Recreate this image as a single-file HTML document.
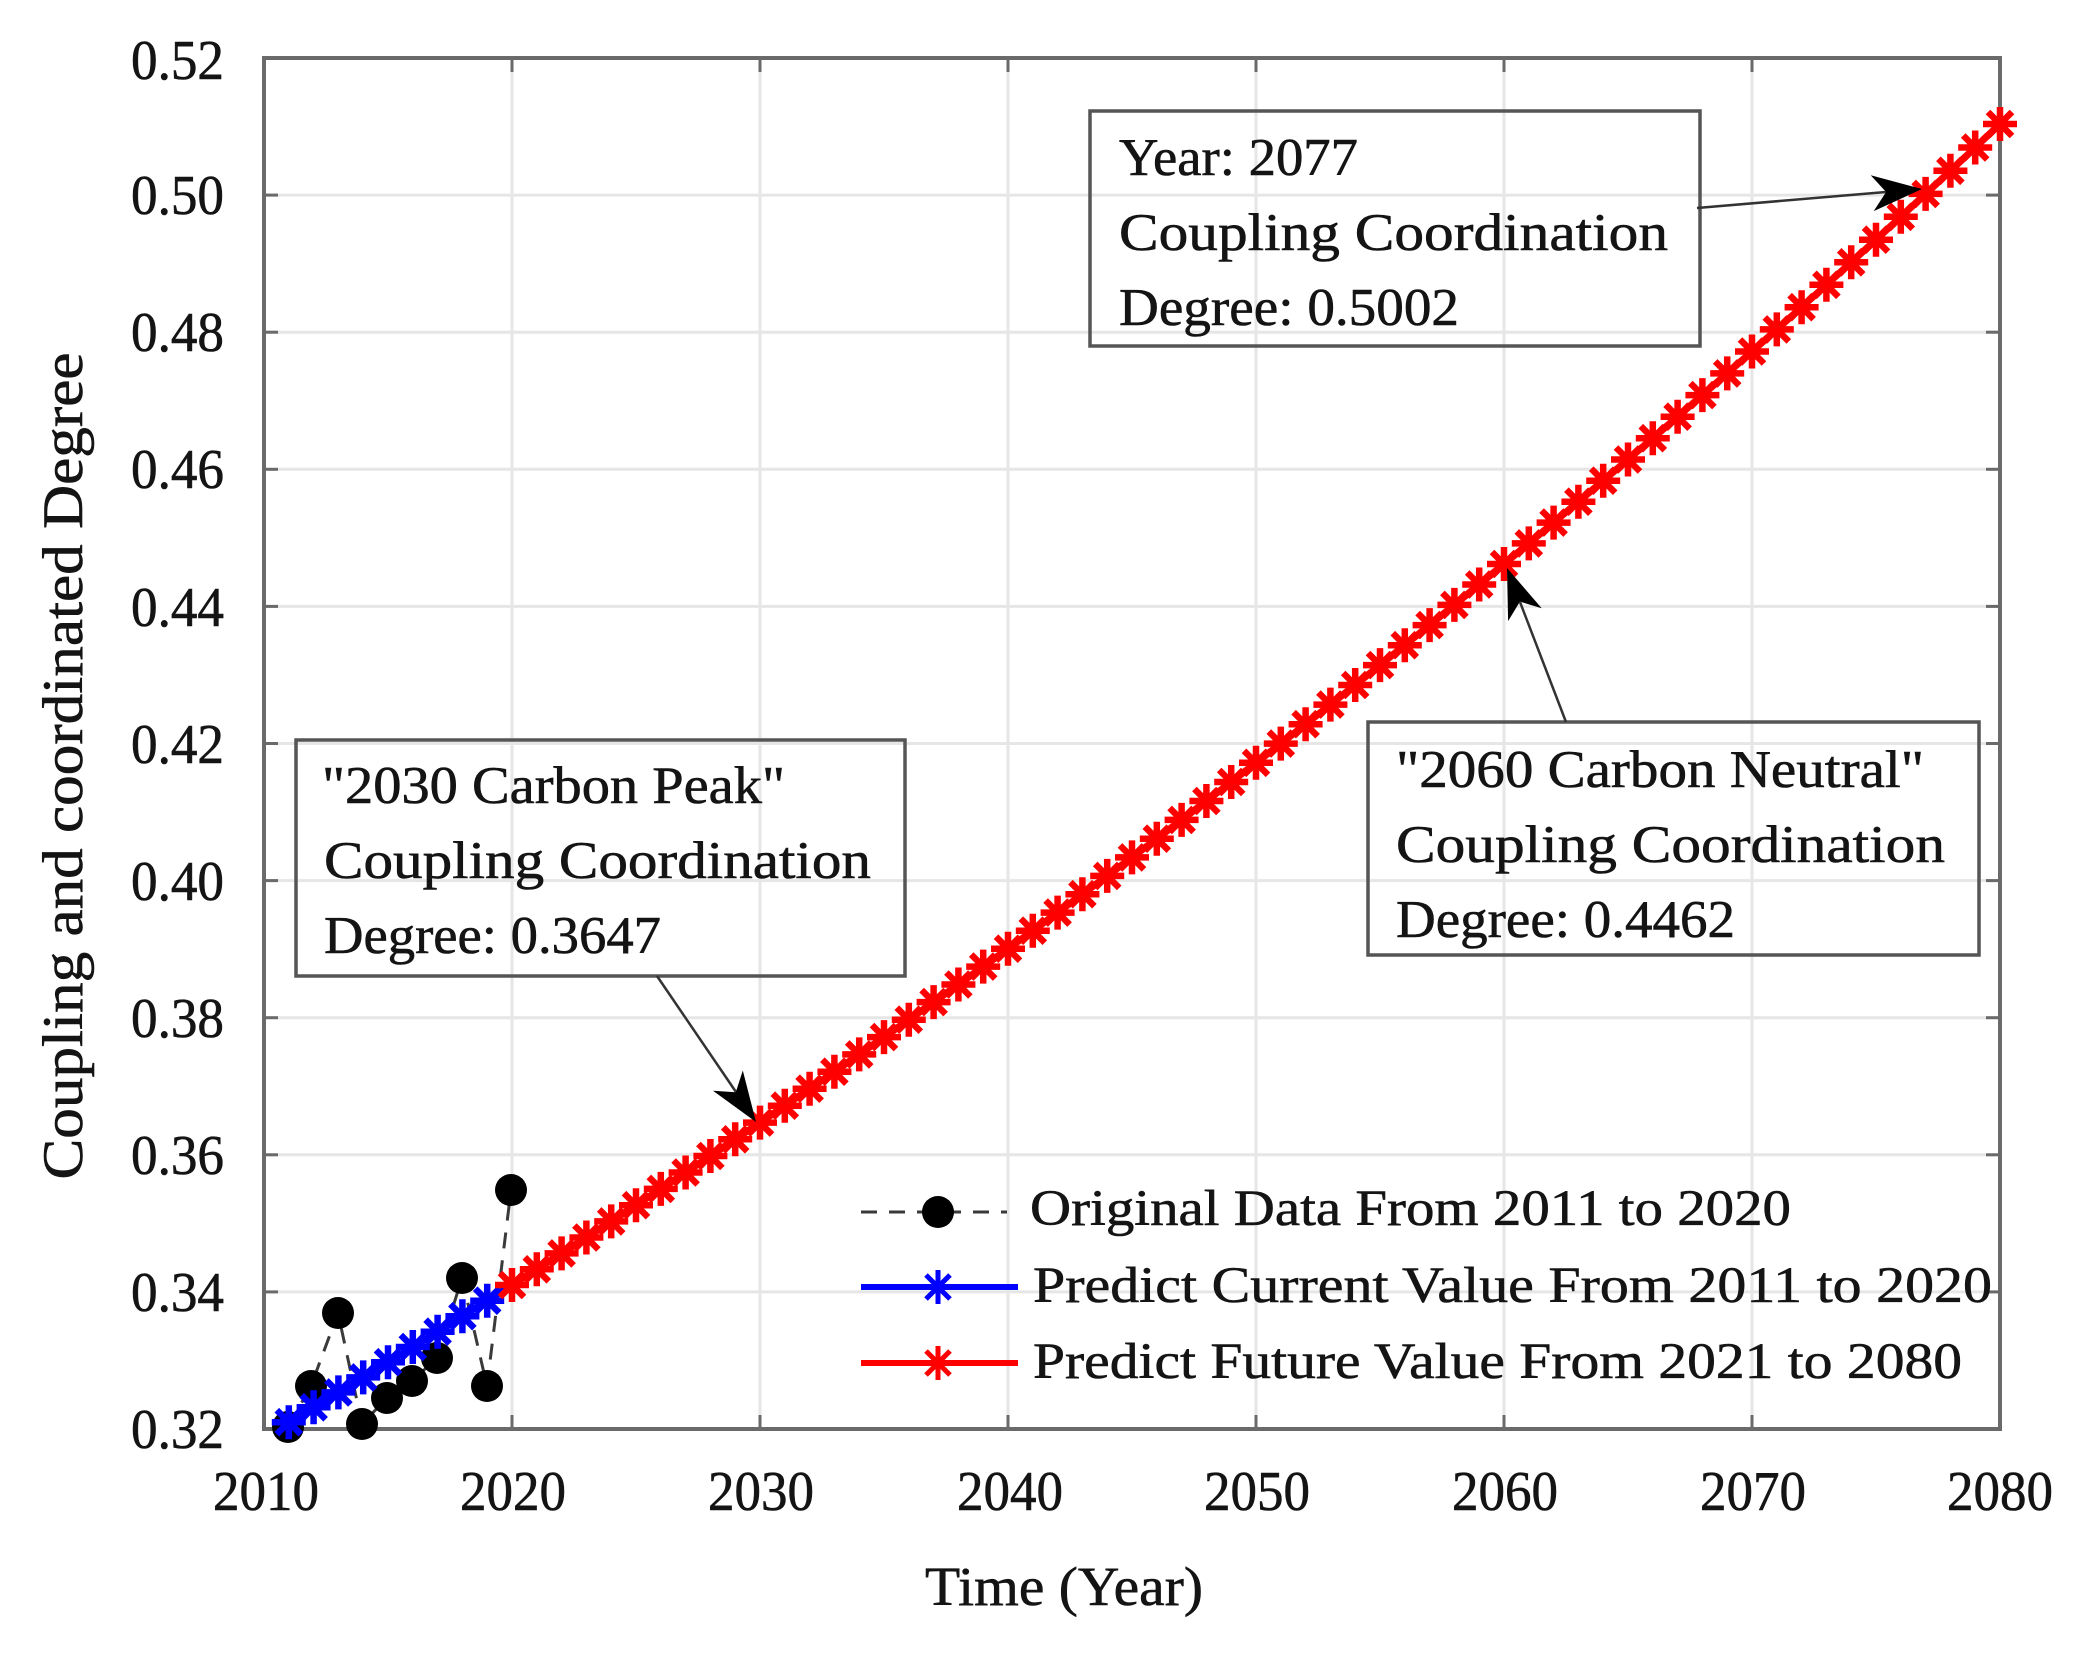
<!DOCTYPE html>
<html>
<head>
<meta charset="utf-8">
<style>
html,body{margin:0;padding:0;background:#fff;}
svg{display:block;}
text{font-family:"Liberation Serif","DejaVu Serif",serif;fill:#141414;stroke:#141414;stroke-width:0.6;}
</style>
</head>
<body>
<svg width="2086" height="1654" viewBox="0 0 2086 1654" xmlns="http://www.w3.org/2000/svg" xmlns:xlink="http://www.w3.org/1999/xlink">
<defs>
<path id="s" d="M-17 0H17M0-17V17M-12-12L12 12M-12 12L12-12" fill="none"/>
</defs>
<rect width="2086" height="1654" fill="#fff"/>

<!-- grid -->
<g stroke="#e6e6e6" stroke-width="3">
<line x1="512" y1="58" x2="512" y2="1429"/>
<line x1="760" y1="58" x2="760" y2="1429"/>
<line x1="1008" y1="58" x2="1008" y2="1429"/>
<line x1="1256" y1="58" x2="1256" y2="1429"/>
<line x1="1504" y1="58" x2="1504" y2="1429"/>
<line x1="1752" y1="58" x2="1752" y2="1429"/>
<line x1="264" y1="1291.9" x2="2000" y2="1291.9"/>
<line x1="264" y1="1154.8" x2="2000" y2="1154.8"/>
<line x1="264" y1="1017.7" x2="2000" y2="1017.7"/>
<line x1="264" y1="880.6" x2="2000" y2="880.6"/>
<line x1="264" y1="743.5" x2="2000" y2="743.5"/>
<line x1="264" y1="606.4" x2="2000" y2="606.4"/>
<line x1="264" y1="469.3" x2="2000" y2="469.3"/>
<line x1="264" y1="332.2" x2="2000" y2="332.2"/>
<line x1="264" y1="195.1" x2="2000" y2="195.1"/>
</g>

<!-- axes box and ticks -->
<rect x="264" y="58" width="1736" height="1371" fill="none" stroke="#6a6a6a" stroke-width="4"/>
<g stroke="#6a6a6a" stroke-width="3">
<line x1="512" y1="1429" x2="512" y2="1415"/><line x1="512" y1="58" x2="512" y2="72"/>
<line x1="760" y1="1429" x2="760" y2="1415"/><line x1="760" y1="58" x2="760" y2="72"/>
<line x1="1008" y1="1429" x2="1008" y2="1415"/><line x1="1008" y1="58" x2="1008" y2="72"/>
<line x1="1256" y1="1429" x2="1256" y2="1415"/><line x1="1256" y1="58" x2="1256" y2="72"/>
<line x1="1504" y1="1429" x2="1504" y2="1415"/><line x1="1504" y1="58" x2="1504" y2="72"/>
<line x1="1752" y1="1429" x2="1752" y2="1415"/><line x1="1752" y1="58" x2="1752" y2="72"/>
<line x1="264" y1="1291.9" x2="278" y2="1291.9"/><line x1="2000" y1="1291.9" x2="1986" y2="1291.9"/>
<line x1="264" y1="1154.8" x2="278" y2="1154.8"/><line x1="2000" y1="1154.8" x2="1986" y2="1154.8"/>
<line x1="264" y1="1017.7" x2="278" y2="1017.7"/><line x1="2000" y1="1017.7" x2="1986" y2="1017.7"/>
<line x1="264" y1="880.6" x2="278" y2="880.6"/><line x1="2000" y1="880.6" x2="1986" y2="880.6"/>
<line x1="264" y1="743.5" x2="278" y2="743.5"/><line x1="2000" y1="743.5" x2="1986" y2="743.5"/>
<line x1="264" y1="606.4" x2="278" y2="606.4"/><line x1="2000" y1="606.4" x2="1986" y2="606.4"/>
<line x1="264" y1="469.3" x2="278" y2="469.3"/><line x1="2000" y1="469.3" x2="1986" y2="469.3"/>
<line x1="264" y1="332.2" x2="278" y2="332.2"/><line x1="2000" y1="332.2" x2="1986" y2="332.2"/>
<line x1="264" y1="195.1" x2="278" y2="195.1"/><line x1="2000" y1="195.1" x2="1986" y2="195.1"/>
</g>

<!-- y tick labels -->
<g font-size="56" text-anchor="end">
<text x="224" y="1448" textLength="93" lengthAdjust="spacingAndGlyphs">0.32</text>
<text x="224" y="1311" textLength="93" lengthAdjust="spacingAndGlyphs">0.34</text>
<text x="224" y="1174" textLength="93" lengthAdjust="spacingAndGlyphs">0.36</text>
<text x="224" y="1037" textLength="93" lengthAdjust="spacingAndGlyphs">0.38</text>
<text x="224" y="900" textLength="93" lengthAdjust="spacingAndGlyphs">0.40</text>
<text x="224" y="763" textLength="93" lengthAdjust="spacingAndGlyphs">0.42</text>
<text x="224" y="626" textLength="93" lengthAdjust="spacingAndGlyphs">0.44</text>
<text x="224" y="488" textLength="93" lengthAdjust="spacingAndGlyphs">0.46</text>
<text x="224" y="351" textLength="93" lengthAdjust="spacingAndGlyphs">0.48</text>
<text x="224" y="214" textLength="93" lengthAdjust="spacingAndGlyphs">0.50</text>
<text x="224" y="79" textLength="93" lengthAdjust="spacingAndGlyphs">0.52</text>
</g>

<!-- x tick labels -->
<g font-size="56" text-anchor="middle">
<text x="266" y="1510" textLength="106" lengthAdjust="spacingAndGlyphs">2010</text>
<text x="513" y="1510" textLength="106" lengthAdjust="spacingAndGlyphs">2020</text>
<text x="761" y="1510" textLength="106" lengthAdjust="spacingAndGlyphs">2030</text>
<text x="1010" y="1510" textLength="106" lengthAdjust="spacingAndGlyphs">2040</text>
<text x="1257" y="1510" textLength="106" lengthAdjust="spacingAndGlyphs">2050</text>
<text x="1505" y="1510" textLength="106" lengthAdjust="spacingAndGlyphs">2060</text>
<text x="1753" y="1510" textLength="106" lengthAdjust="spacingAndGlyphs">2070</text>
<text x="2000" y="1510" textLength="106" lengthAdjust="spacingAndGlyphs">2080</text>
</g>

<!-- axis labels -->
<text x="925" y="1605" font-size="55" textLength="278" lengthAdjust="spacingAndGlyphs">Time (Year)</text>
<text transform="translate(82,766) rotate(-90)" text-anchor="middle" font-size="57" textLength="827" lengthAdjust="spacingAndGlyphs">Coupling and coordinated Degree</text>

<!-- original data -->
<polyline points="288,1427 311,1386 338,1313 362,1424 387,1398 412,1381 437,1358 462,1278 487,1386 511,1190" fill="none" stroke="#3a3a3a" stroke-width="3" stroke-dasharray="16 12"/>
<g fill="#000">
<circle cx="288" cy="1427" r="16"/>
<circle cx="311" cy="1386" r="16"/>
<circle cx="338" cy="1313" r="16"/>
<circle cx="362" cy="1424" r="16"/>
<circle cx="387" cy="1398" r="16"/>
<circle cx="412" cy="1381" r="16"/>
<circle cx="437" cy="1358" r="16"/>
<circle cx="462" cy="1278" r="16"/>
<circle cx="487" cy="1386" r="16"/>
<circle cx="511" cy="1190" r="16"/>
</g>

<!-- blue predicted current -->
<polyline points="288.8,1422.2 313.6,1407.3 338.4,1392.4 363.2,1377.4 388.0,1362.2 412.8,1347.0 437.6,1331.7 462.4,1316.2 487.2,1300.7 512,1285" fill="none" stroke="#0000ff" stroke-width="7"/>
<g stroke="#0000ff" stroke-width="6.5">
<use href="#s" x="288.8" y="1422.2"/><use href="#s" x="313.6" y="1407.3"/><use href="#s" x="338.4" y="1392.4"/>
<use href="#s" x="363.2" y="1377.4"/><use href="#s" x="388.0" y="1362.2"/><use href="#s" x="412.8" y="1347.0"/>
<use href="#s" x="437.6" y="1331.7"/><use href="#s" x="462.4" y="1316.2"/><use href="#s" x="487.2" y="1300.7"/>
</g>

<!-- red predicted future -->
<polyline points="512.0,1285.0 536.8,1269.3 561.6,1253.4 586.4,1237.5 611.2,1221.4 636.0,1205.2 660.8,1188.9 685.6,1172.5 710.4,1156.0 735.2,1139.3 760.0,1122.6 784.8,1105.7 809.6,1088.7 834.4,1071.7 859.2,1054.4 884.0,1037.1 908.8,1019.7 933.6,1002.1 958.4,984.5 983.2,966.6 1008.0,948.7 1032.8,930.7 1057.6,912.6 1082.4,894.2 1107.2,875.9 1132.0,857.4 1156.8,838.7 1181.6,819.9 1206.4,801.0 1231.2,782.0 1256.0,762.8 1280.8,743.6 1305.6,724.2 1330.4,704.6 1355.2,685.0 1380.0,665.1 1404.8,645.2 1429.6,625.1 1454.4,604.9 1479.2,584.5 1504.0,564.0 1528.8,543.4 1553.6,522.6 1578.4,501.7 1603.2,480.7 1628.0,459.5 1652.8,438.2 1677.6,416.7 1702.4,395.1 1727.2,373.4 1752.0,351.5 1776.8,329.4 1801.6,307.2 1826.4,284.8 1851.2,262.3 1876.0,239.7 1900.8,216.8 1925.6,193.9 1950.4,170.8 1975.2,147.5 2000.0,124.0" fill="none" stroke="#ff0000" stroke-width="7"/>
<g stroke="#ff0000" stroke-width="6.5">
<use href="#s" x="512.0" y="1285.0"/><use href="#s" x="536.8" y="1269.3"/><use href="#s" x="561.6" y="1253.4"/><use href="#s" x="586.4" y="1237.5"/>
<use href="#s" x="611.2" y="1221.4"/><use href="#s" x="636.0" y="1205.2"/><use href="#s" x="660.8" y="1188.9"/><use href="#s" x="685.6" y="1172.5"/>
<use href="#s" x="710.4" y="1156.0"/><use href="#s" x="735.2" y="1139.3"/><use href="#s" x="760.0" y="1122.6"/><use href="#s" x="784.8" y="1105.7"/>
<use href="#s" x="809.6" y="1088.7"/><use href="#s" x="834.4" y="1071.7"/><use href="#s" x="859.2" y="1054.4"/><use href="#s" x="884.0" y="1037.1"/>
<use href="#s" x="908.8" y="1019.7"/><use href="#s" x="933.6" y="1002.1"/><use href="#s" x="958.4" y="984.5"/><use href="#s" x="983.2" y="966.6"/>
<use href="#s" x="1008.0" y="948.7"/><use href="#s" x="1032.8" y="930.7"/><use href="#s" x="1057.6" y="912.6"/><use href="#s" x="1082.4" y="894.2"/>
<use href="#s" x="1107.2" y="875.9"/><use href="#s" x="1132.0" y="857.4"/><use href="#s" x="1156.8" y="838.7"/><use href="#s" x="1181.6" y="819.9"/>
<use href="#s" x="1206.4" y="801.0"/><use href="#s" x="1231.2" y="782.0"/><use href="#s" x="1256.0" y="762.8"/><use href="#s" x="1280.8" y="743.6"/>
<use href="#s" x="1305.6" y="724.2"/><use href="#s" x="1330.4" y="704.6"/><use href="#s" x="1355.2" y="685.0"/><use href="#s" x="1380.0" y="665.1"/>
<use href="#s" x="1404.8" y="645.2"/><use href="#s" x="1429.6" y="625.1"/><use href="#s" x="1454.4" y="604.9"/><use href="#s" x="1479.2" y="584.5"/>
<use href="#s" x="1504.0" y="564.0"/><use href="#s" x="1528.8" y="543.4"/><use href="#s" x="1553.6" y="522.6"/><use href="#s" x="1578.4" y="501.7"/>
<use href="#s" x="1603.2" y="480.7"/><use href="#s" x="1628.0" y="459.5"/><use href="#s" x="1652.8" y="438.2"/><use href="#s" x="1677.6" y="416.7"/>
<use href="#s" x="1702.4" y="395.1"/><use href="#s" x="1727.2" y="373.4"/><use href="#s" x="1752.0" y="351.5"/><use href="#s" x="1776.8" y="329.4"/>
<use href="#s" x="1801.6" y="307.2"/><use href="#s" x="1826.4" y="284.8"/><use href="#s" x="1851.2" y="262.3"/><use href="#s" x="1876.0" y="239.7"/>
<use href="#s" x="1900.8" y="216.8"/><use href="#s" x="1925.6" y="193.9"/><use href="#s" x="1950.4" y="170.8"/><use href="#s" x="1975.2" y="147.5"/>
<use href="#s" x="2000.0" y="124.0"/>
</g>

<!-- legend -->
<line x1="861" y1="1212" x2="1007" y2="1212" stroke="#3a3a3a" stroke-width="3" stroke-dasharray="16 12"/>
<circle cx="938" cy="1212" r="16" fill="#000"/>
<line x1="861" y1="1287" x2="1018" y2="1287" stroke="#0000ff" stroke-width="6"/>
<use href="#s" x="938" y="1287" stroke="#0000ff" stroke-width="5"/>
<line x1="861" y1="1363" x2="1018" y2="1363" stroke="#ff0000" stroke-width="6"/>
<use href="#s" x="938" y="1363" stroke="#ff0000" stroke-width="5"/>
<g font-size="51">
<text x="1030" y="1225" textLength="761" lengthAdjust="spacingAndGlyphs">Original Data From 2011 to 2020</text>
<text x="1033" y="1302" textLength="959" lengthAdjust="spacingAndGlyphs">Predict Current Value From 2011 to 2020</text>
<text x="1033" y="1378" textLength="929" lengthAdjust="spacingAndGlyphs">Predict Future Value From 2021 to 2080</text>
</g>

<!-- annotation boxes -->
<g fill="none" stroke="#555" stroke-width="3.5">
<rect x="296" y="740" width="609" height="236"/>
<rect x="1368" y="722" width="611" height="233"/>
<rect x="1090" y="111" width="610" height="235"/>
</g>
<g font-size="53">
<text x="322" y="803" textLength="463" lengthAdjust="spacingAndGlyphs">"2030 Carbon Peak"</text>
<text x="324" y="878" textLength="547" lengthAdjust="spacingAndGlyphs">Coupling Coordination</text>
<text x="324" y="953" textLength="337" lengthAdjust="spacingAndGlyphs">Degree: 0.3647</text>

<text x="1396" y="787" textLength="528" lengthAdjust="spacingAndGlyphs">"2060 Carbon Neutral"</text>
<text x="1396" y="862" textLength="549" lengthAdjust="spacingAndGlyphs">Coupling Coordination</text>
<text x="1396" y="937" textLength="339" lengthAdjust="spacingAndGlyphs">Degree: 0.4462</text>

<text x="1119" y="175" textLength="239" lengthAdjust="spacingAndGlyphs">Year: 2077</text>
<text x="1119" y="250" textLength="549" lengthAdjust="spacingAndGlyphs">Coupling Coordination</text>
<text x="1119" y="325" textLength="340" lengthAdjust="spacingAndGlyphs">Degree: 0.5002</text>
</g>

<!-- arrows -->
<g stroke="#333" stroke-width="2.5">
<line x1="657" y1="976" x2="736" y2="1092"/>
<line x1="1566" y1="722" x2="1520" y2="602"/>
<line x1="1697" y1="208" x2="1886" y2="192"/>
</g>
<g fill="#000">
<polygon points="756,1122 713.0,1090.7 735.8,1092.2 742.8,1070.5"/>
<polygon points="1507,568 1541.7,608.3 1519.9,601.6 1508.1,621.1"/>
<polygon points="1922,189 1870.7,175.3 1886.1,192.0 1873.7,211.1"/>
</g>
</svg>
</body>
</html>
